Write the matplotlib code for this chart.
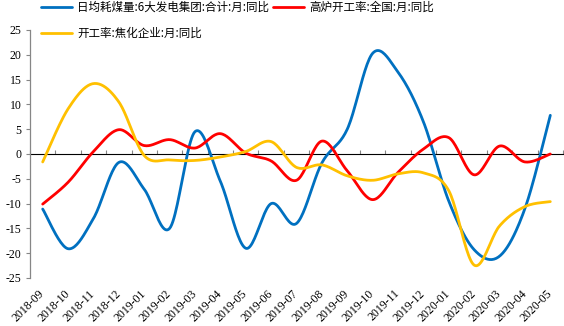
import matplotlib
matplotlib.use("Agg")
import matplotlib.pyplot as plt
import numpy as np

plt.rcParams['font.family'] = ['Liberation Serif', 'Noto Sans CJK SC', 'DejaVu Sans']

months = ["2018-09", "2018-10", "2018-11", "2018-12", "2019-01", "2019-02", "2019-03",
          "2019-04", "2019-05", "2019-06", "2019-07", "2019-08", "2019-09", "2019-10",
          "2019-11", "2019-12", "2020-01", "2020-02", "2020-03", "2020-04", "2020-05"]

coal_power = [-11.1, -19.1, -13.0, -1.7, -7.1, -15.0, 4.5, -5.5, -19.0, -10.0, -14.0,
              -1.8, 5.0, 20.3, 16.5, 6.5, -9.5, -19.3, -20.6, -11.0, 7.8]
blast_furnace = [-10.1, -5.7, 0.5, 4.9, 1.7, 2.9, 1.2, 4.1, 0.2, -1.4, -5.3,
                 2.6, -3.4, -9.2, -3.7, 1.0, 3.3, -4.2, 1.6, -1.6, 0.0]
coking = [-1.6, 9.1, 14.2, 10.5, -0.3, -1.2, -1.3, -0.6, 0.5, 2.5, -2.7,
          -2.2, -4.4, -5.3, -4.0, -3.8, -7.4, -22.4, -14.5, -10.6, -9.6]

labels = ["日均耗煤量:6大发电集团:合计:月:同比", "高炉开工率:全国:月:同比", "开工率:焦化企业:月:同比"]
colors = ["#0070C0", "#FF0000", "#FFC000"]


def smooth(y, steps=24):
    # Excel-like smoothed line (Catmull-Rom as cubic Bezier)
    y = np.asarray(y, dtype=float)
    x = np.arange(len(y), dtype=float)
    px = np.concatenate([[x[0]], x, [x[-1]]])
    py = np.concatenate([[y[0]], y, [y[-1]]])
    t = np.linspace(0, 1, steps)[:, None]
    xs, ys = [], []
    for i in range(len(y) - 1):
        p0 = np.array([px[i], py[i]])
        p1 = np.array([px[i + 1], py[i + 1]])
        p2 = np.array([px[i + 2], py[i + 2]])
        p3 = np.array([px[i + 3], py[i + 3]])
        c1 = p1 + (p2 - p0) / 6
        c2 = p2 - (p3 - p1) / 6
        b = ((1 - t) ** 3) * p1 + 3 * ((1 - t) ** 2) * t * c1 + 3 * (1 - t) * t ** 2 * c2 + t ** 3 * p2
        xs.append(b[:, 0])
        ys.append(b[:, 1])
    return np.concatenate(xs), np.concatenate(ys)


fig = plt.figure(figsize=(5.64, 3.26), dpi=100)
ax = fig.add_axes([30 / 564, (326 - 278) / 326, 533 / 564, 248 / 326])

lines = []
for series, c, lab in zip([coal_power, blast_furnace, coking], colors, labels):
    sx, sy = smooth(series)
    ln, = ax.plot(sx, sy, color=c, lw=2.0, label=lab, solid_capstyle='round')
    lines.append(ln)

ax.set_xlim(-0.5, len(months) - 0.5)
ax.set_ylim(-25, 25)
ax.set_yticks(np.arange(-25, 26, 5))
ax.set_yticklabels([str(v) for v in range(-25, 26, 5)], fontsize=8.5)
ax.tick_params(axis='y', direction='out', length=3, color='#868686', pad=3)

for s in ['top', 'right', 'bottom']:
    ax.spines[s].set_visible(False)
ax.spines['left'].set_color('#868686')
ax.spines['left'].set_linewidth(0.9)

ax.set_xticks(np.arange(len(months)))
ax.set_xticklabels(months, rotation=45, ha='right', va='center',
                   rotation_mode='anchor', fontsize=8.5)
ax.tick_params(axis='x', length=0, pad=10)

# zero line with category boundary ticks
zero_ax = ax.secondary_xaxis(0.5)
zero_ax.set_xticks(np.arange(len(months) + 1) - 0.5)
zero_ax.set_xticklabels([])
zero_ax.tick_params(axis='x', direction='out', length=3, color='#868686',
                    labelbottom=False, labeltop=False)
zero_ax.spines['bottom'].set_color('#868686')
zero_ax.spines['bottom'].set_linewidth(0.9)

fig.legend(handles=[lines[0], lines[2], lines[1]],
           labels=[labels[0], labels[2], labels[1]],
           ncol=2, loc='upper left', bbox_to_anchor=(40 / 564, 1.0),
           frameon=False, handlelength=2.7, handletextpad=0.45,
           columnspacing=0.3, labelspacing=1.1, borderaxespad=0, borderpad=0.1,
           prop={'family': ['Noto Sans CJK SC', 'DejaVu Sans'], 'size': 8.3})

fig.savefig("out.png", dpi=100)
